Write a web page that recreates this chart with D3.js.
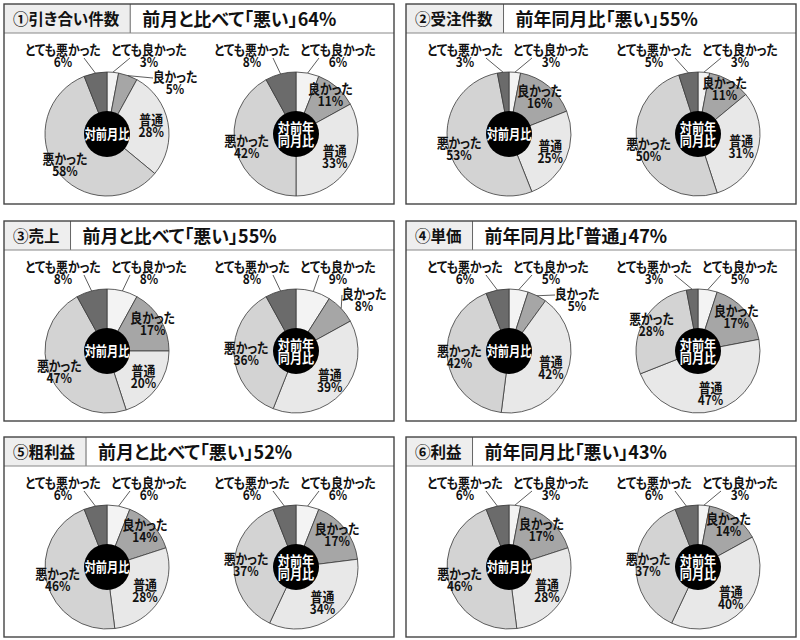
<!DOCTYPE html>
<html lang="ja">
<head>
<meta charset="utf-8">
<script src="https://cdn.jsdelivr.net/npm/d3@7"></script>
<style>
  body { margin: 0; background: #fff; }
  text { font-family: "Noto Sans CJK JP", "Noto Sans", sans-serif; font-feature-settings: "palt"; }
</style>
</head>
<body>
<svg id="chart"></svg>
<script>
// answer categories, clockwise from 12 o'clock
const categories = ["とても良かった", "良かった", "普通", "悪かった", "とても悪かった"];

const panelLabels = ["①引き合い件数", "②受注件数", "③売上", "④単価", "⑤粗利益", "⑥利益"];
const panelTitles = [
  "前月と比べて「悪い」64%",
  "前年同月比「悪い」55%",
  "前月と比べて「悪い」55%",
  "前年同月比「普通」47%",
  "前月と比べて「悪い」52%",
  "前年同月比「悪い」43%"
];
const centerLabels = [["対前月比"], ["対前年", "同月比"]];

// 対前月比 (%), order as categories
const momValues = [
  [3, 5, 28, 58, 6],
  [3, 16, 25, 53, 3],
  [8, 17, 20, 47, 8],
  [5, 5, 42, 42, 6],
  [6, 14, 28, 46, 6],
  [3, 17, 28, 46, 6]
];
// 対前年同月比 (%)
const yoyValues = [
  [6, 11, 33, 42, 8],
  [3, 11, 31, 50, 5],
  [9, 8, 39, 36, 8],
  [5, 17, 47, 28, 3],
  [6, 17, 34, 37, 6],
  [3, 14, 40, 37, 6]
];

const width = 800;
const height = 640;
const svg = d3.select("#chart").attr("width", width).attr("height", height);

const color = d3.scaleOrdinal()
  .domain(categories)
  .range(["#f3f3f3", "#a6a6a6", "#e8e8e8", "#d3d3d3", "#6b6b6b"]);

const panelW = 390, panelH = 200, headerH = 29;
const colX = d3.scaleOrdinal().domain([0, 1]).range([4, 406]);
const rowY = d3.scaleOrdinal().domain([0, 1, 2]).range([4, 221, 437]);
const pieX = d3.scaleOrdinal().domain([0, 1]).range([103, 292]);
const pieY = 130;
const radius = 62;
const holeR = 23;

const pie = d3.pie().sort(null).value((d) => d);
const arc = d3.arc().innerRadius(0).outerRadius(radius);
const ringAt = (r) => d3.arc().innerRadius(r).outerRadius(r);

// slice label: name over percentage, slightly condensed like the print
function twoLine(g, x, y, name, pct) {
  const t = g.append("text")
    .attr("transform", `translate(${x},${y}) scale(0.88,1)`)
    .attr("text-anchor", "middle")
    .attr("font-weight", "bold")
    .attr("font-size", 13.5)
    .attr("fill", "#111");
  t.append("tspan").attr("x", 0).attr("y", 0).text(name);
  t.append("tspan").attr("x", 0).attr("y", 12).text(pct + "%");
}

function leader(g, a, b) {
  g.append("line")
    .attr("x1", a[0]).attr("y1", a[1])
    .attr("x2", b[0]).attr("y2", b[1])
    .attr("stroke", "#333")
    .attr("stroke-width", 0.8);
}

function drawPie(g, values, k) {
  const pg = g.append("g").attr("transform", `translate(${pieX(k)},${pieY})`);
  const arcs = pie(values);

  pg.selectAll("path.slice")
    .data(arcs)
    .join("path")
    .attr("class", "slice")
    .attr("d", arc)
    .attr("fill", (d, i) => color(categories[i]))
    .attr("stroke", "#3a3a3a")
    .attr("stroke-width", 0.8);

  pg.append("circle").attr("r", holeR).attr("fill", "#000");

  const lines = centerLabels[k];
  const ct = pg.append("text")
    .attr("text-anchor", "middle")
    .attr("fill", "#fff")
    .attr("font-weight", "bold")
    .attr("font-size", lines.length === 1 ? 14 : 13.5)
    .attr("transform", lines.length === 1 ? "scale(0.8,1)" : "scale(0.9,1)");
  lines.forEach((s, j) => {
    ct.append("tspan")
      .attr("x", 0)
      .attr("y", lines.length === 1 ? 5 : -1 + j * 13)
      .text(s);
  });

  arcs.forEach((d, i) => {
    const name = categories[i];
    const v = d.data;
    const edge = ringAt(radius).centroid(d);
    if (i === 0) {
      const lx = 42, ly = -79;
      twoLine(pg, lx, ly, name, v);
      leader(pg, [lx - 19, ly + 3], edge);
    } else if (i === 4) {
      const lx = -44, ly = -79;
      twoLine(pg, lx, ly, name, v);
      leader(pg, [lx + 21, ly + 3], edge);
    } else if (i === 1 && v < 10) {
      const lx = 68, ly = -52;
      twoLine(pg, lx, ly, name, v);
      leader(pg, edge, [lx - 22, ly - 4]);
    } else {
      // inside the slice, pushed clear of the black centre
      const hw = name.length * 5.8, hh = 12;
      let r = v < 15 ? 52 : 45;
      let p = ringAt(r).centroid(d);
      const gap = (q) => Math.hypot(Math.max(Math.abs(q[0]) - hw, 0), Math.max(Math.abs(q[1]) - hh, 0));
      while (gap(p) < holeR + 3 && r < radius) {
        r += 1;
        p = ringAt(r).centroid(d);
      }
      twoLine(pg, p[0], p[1] - 1, name, v);
    }
  });
}

panelLabels.forEach((label, p) => {
  const g = svg.append("g")
    .attr("transform", `translate(${colX(p % 2)},${rowY(Math.floor(p / 2))})`);

  g.append("rect").attr("width", panelW).attr("height", panelH).attr("fill", "#fff");

  const box = g.append("rect").attr("height", headerH).attr("fill", "#eeeeee");
  const lab = g.append("text")
    .attr("x", 9)
    .attr("y", 20.5)
    .attr("font-size", 15.5)
    .attr("font-weight", "bold")
    .attr("fill", "#111")
    .text(label);
  const boxW = lab.node().getComputedTextLength() + 20;
  box.attr("width", boxW);

  g.append("line")
    .attr("x1", boxW).attr("x2", boxW).attr("y1", 0).attr("y2", headerH)
    .attr("stroke", "#666").attr("stroke-width", 1);
  g.append("line")
    .attr("x1", 0).attr("x2", panelW).attr("y1", headerH).attr("y2", headerH)
    .attr("stroke", "#888").attr("stroke-width", 1);

  g.append("text")
    .attr("x", boxW + 12)
    .attr("y", 22)
    .attr("font-size", 18)
    .attr("font-weight", "bold")
    .attr("fill", "#111")
    .text(panelTitles[p]);

  drawPie(g, momValues[p], 0);
  drawPie(g, yoyValues[p], 1);

  g.append("rect")
    .attr("width", panelW).attr("height", panelH)
    .attr("fill", "none")
    .attr("stroke", "#444")
    .attr("stroke-width", 1.4);
});
</script>
</body>
</html>
